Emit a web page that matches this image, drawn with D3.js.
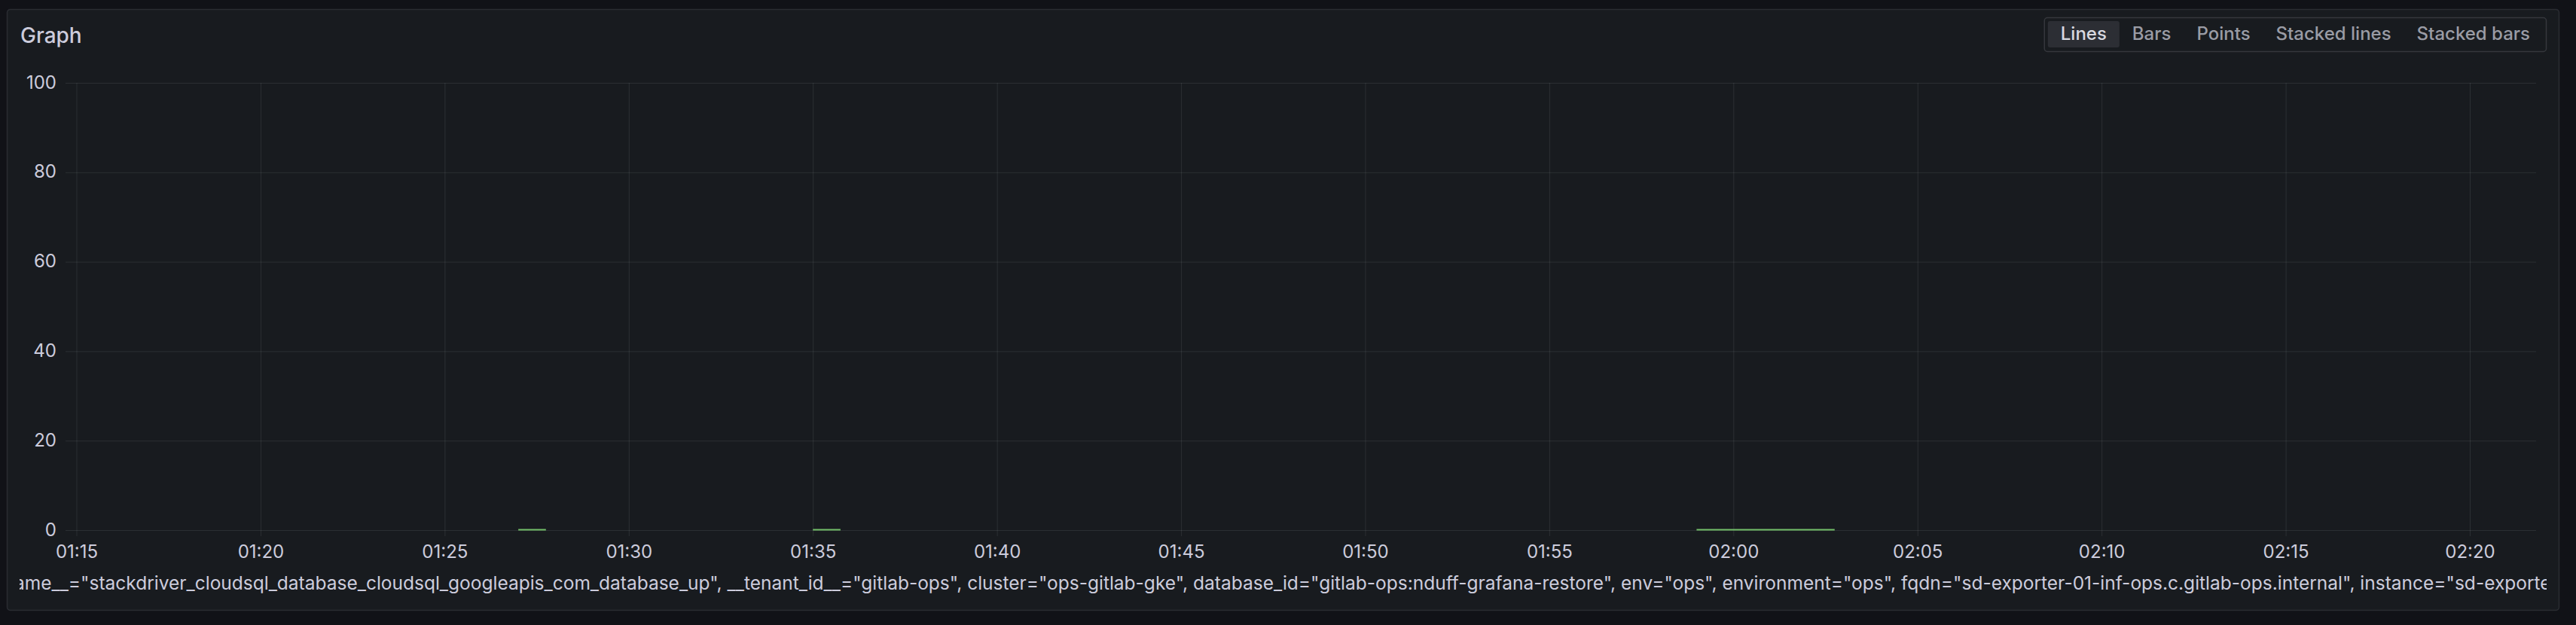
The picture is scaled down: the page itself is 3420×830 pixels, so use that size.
<!DOCTYPE html>
<html>
<head>
<meta charset="utf-8">
<script src="https://cdn.jsdelivr.net/npm/d3@7/dist/d3.min.js"></script>
<style>
  html, body { margin: 0; padding: 0; background: #111217; }
  svg { display: block; font-family: Inter, "Noto Sans", sans-serif; }
</style>
</head>
<body>
<svg id="chart" width="3420" height="830"></svg>
<script>
// ---- data ----
const chartTitle = "Graph";
const modeOptions = ["Lines", "Bars", "Points", "Stacked lines", "Stacked bars"];
const activeMode = "Lines";
const timeStart = "01:14:52";
const timeEnd = "02:21:48";
const xTickLabels = ["01:15","01:20","01:25","01:30","01:35","01:40","01:45","01:50","01:55","02:00","02:05","02:10","02:15","02:20"];
const yTickValues = [0, 20, 40, 60, 80, 100];
const sampleTimes  = ["01:27:00","01:27:45","01:28:00","01:35:00","01:35:45","01:36:00","01:59:00","02:02:45"];
const sampleValues = [0, 0, null, 0, 0, null, 0, 0];
const seriesLabel = '{__name__="stackdriver_cloudsql_database_cloudsql_googleapis_com_database_up", __tenant_id__="gitlab-ops", cluster="ops-gitlab-gke", database_id="gitlab-ops:nduff-grafana-restore", env="ops", environment="ops", fqdn="sd-exporter-01-inf-ops.c.gitlab-ops.internal", instance="sd-exporter-01-inf-ops.c.gitlab-ops.internal:9255"}';
const seriesColor = "#73bf69";

// ---- helpers ----
const parseT = s => { const [h,m,sec] = s.split(":").map(Number); return new Date(Date.UTC(2024,0,1,h,m,sec||0)); };

const svg = d3.select("#chart");
const W = 3420, H = 830;
const panel = { x: 9.5, y: 12.5, w: 3388, h: 798 };
const plot = { left: 95, right: 3367, top: 110, bottom: 704 };
const textColor = "#ccccdc";
const gridColor = "rgba(240,250,255,0.09)";

svg.append("rect").attr("width", W).attr("height", H).attr("fill", "#111217");
svg.append("rect").attr("x", panel.x).attr("y", panel.y).attr("width", panel.w).attr("height", panel.h)
  .attr("rx", 4).attr("fill", "#181b1f").attr("stroke", "rgba(204,204,220,0.12)").attr("stroke-width", 1.5);

// title
svg.append("text").attr("x", 27).attr("y", 57).attr("fill", textColor)
  .attr("font-size", 28).attr("font-weight", 500).text(chartTitle);

// mode radio group
const grp = svg.append("g");
const btnTexts = grp.selectAll("text.mode").data(modeOptions).join("text")
  .attr("class", "mode").attr("font-size", 24).attr("font-weight", 500)
  .attr("text-anchor", "middle").attr("y", 53)
  .attr("fill", d => d === activeMode ? "#d8d9e0" : "#9a9ca5").text(d => d);
const widths = [];
btnTexts.each(function() { widths.push(this.getComputedTextLength()); });
const pad = 17, groupRight = 3381, inner = 5;
const total = d3.sum(widths) + pad * 2 * widths.length;
let bx = groupRight - inner - total;
grp.insert("rect", "text").attr("x", bx - inner + 0.5).attr("y", 23.5).attr("width", total + inner * 2 - 1).attr("height", 45)
  .attr("rx", 4).attr("fill", "none").attr("stroke", "rgba(204,204,220,0.16)").attr("stroke-width", 1.5);
modeOptions.forEach((m, i) => {
  const w = widths[i] + pad * 2;
  if (m === activeMode) {
    grp.insert("rect", "text").attr("x", bx).attr("y", 28).attr("width", w).attr("height", 35)
      .attr("rx", 3).attr("fill", "#2c2e34");
  }
  d3.select(btnTexts.nodes()[i]).attr("x", bx + w / 2);
  bx += w;
});

// scales
const x = d3.scaleUtc().domain([parseT(timeStart), parseT(timeEnd)]).range([plot.left, plot.right]);
const y = d3.scaleLinear().domain([0, 100]).range([plot.bottom, plot.top]);

// y axis + horizontal grid
const yAxis = d3.axisLeft(y).tickValues(yTickValues).tickFormat(d3.format("d"))
  .tickSizeInner(-(plot.right - 87)).tickSizeOuter(0).tickPadding(12);
const yg = svg.append("g").attr("transform", "translate(87,0)").call(yAxis);
yg.select(".domain").remove();
yg.selectAll(".tick line").attr("stroke", gridColor).attr("stroke-width", 1);
yg.selectAll(".tick text").attr("fill", textColor).attr("font-size", 24).attr("font-family", "Inter").attr("dy", 7);

// x axis + vertical grid
const xTickDates = xTickLabels.map(parseT);
const xAxis = d3.axisBottom(x).tickValues(xTickDates).tickFormat(d3.utcFormat("%H:%M"))
  .tickSizeInner(-(712 - plot.top)).tickSizeOuter(0).tickPadding(12);
const xg = svg.append("g").attr("transform", "translate(0,712)").call(xAxis);
xg.select(".domain").remove();
xg.selectAll(".tick line").attr("stroke", gridColor).attr("stroke-width", 1);
xg.selectAll(".tick text").attr("fill", textColor).attr("font-size", 24).attr("font-family", "Inter");

// series
const pts = sampleTimes.map((t, i) => ({ t: parseT(t), v: sampleValues[i] }));
const line = d3.line().defined(d => d.v !== null).x(d => x(d.t)).y(d => y(d.v) - 0.5);
svg.append("path").datum(pts).attr("d", line).attr("fill", "none")
  .attr("stroke", seriesColor).attr("stroke-width", 2);

// legend (clipped, overflowing like the original)
svg.append("clipPath").attr("id", "legclip").append("rect")
  .attr("x", 26).attr("y", 745).attr("width", 3381 - 26).attr("height", 60);
const leg = svg.append("g").attr("clip-path", "url(#legclip)");
const legText = leg.append("text").attr("y", 783).attr("font-size", 24).attr("fill", textColor)
  .attr("font-family", "Inter").text(seriesLabel);
const prefixIdx = seriesLabel.indexOf("ame__");
const endMarker = 'instance="sd-exporte';
const endIdx = seriesLabel.indexOf(endMarker) + endMarker.length;
const spanW = legText.node().getSubStringLength(prefixIdx, endIdx - prefixIdx);
const fs = 24 * 3368 / spanW;
legText.attr("font-size", fs);
const prefixW = legText.node().getSubStringLength(0, prefixIdx);
legText.attr("x", 19 - prefixW);
</script>
</body>
</html>
